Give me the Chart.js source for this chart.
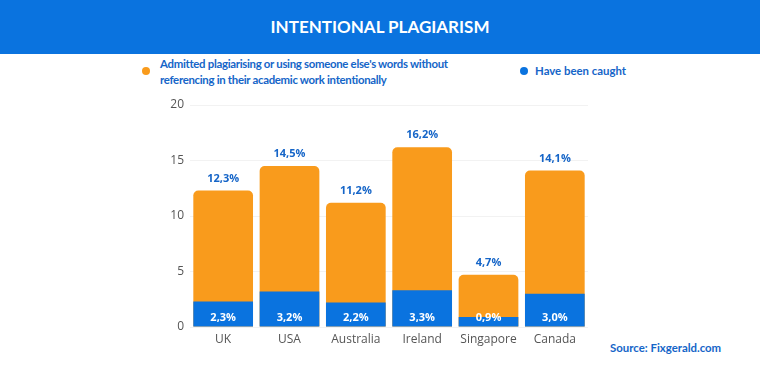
<!DOCTYPE html>
<html>
<head>
<meta charset="utf-8">
<script src="https://cdn.jsdelivr.net/npm/chart.js@4/dist/chart.umd.min.js"></script>
<style>
  html, body { margin: 0; padding: 0; width: 760px; height: 380px; background: #fff; overflow: hidden; }
  #wrap { position: relative; width: 760px; height: 380px; }
  #header { position: absolute; left: 0; top: 0; width: 760px; height: 54px; background: #0A73DF;
    color: #fff; font-family: Lato, "Open Sans", sans-serif; font-weight: 700; font-size: 17px;
    text-align: center; line-height: 54px; }
  .leg { position: absolute; font-family: Lato, "Open Sans", sans-serif; font-weight: 700; font-size: 11.4px;
    color: #1565C8; line-height: 16px; white-space: nowrap; }
  .dot { position: absolute; width: 8px; height: 8px; border-radius: 50%; }
  #source { position: absolute; left: 610px; top: 341px; font-family: Lato, "Open Sans", sans-serif;
    font-weight: 700; font-size: 11.4px; color: #1565C8; white-space: nowrap; }
  canvas { position: absolute; left: 0; top: 0; }
</style>
</head>
<body>
<div id="wrap">
  <div id="header">INTENTIONAL PLAGIARISM</div>
  <div class="dot" style="left:142px; top:67px; background:#F99B1C;"></div>
  <div class="leg" style="left:160px; top:56px; letter-spacing:-0.3px;">Admitted plagiarising or using someone else's words without<br>referencing in their academic work intentionally</div>
  <div class="dot" style="left:520px; top:67px; background:#0A73DF;"></div>
  <div class="leg" style="left:535px; top:63px;">Have been caught</div>
  <div id="source">Source: Fixgerald.com</div>
  <canvas id="c" width="760" height="380"></canvas>
</div>
<script>
const categories = ["UK", "USA", "Australia", "Ireland", "Singapore", "Canada"];
const admitted = [12.3, 14.5, 11.2, 16.2, 4.7, 14.1];
const caught = [2.3, 3.2, 2.2, 3.3, 0.9, 3.0];
const yTicks = [0, 5, 10, 15, 20];

const fmt = v => v.toFixed(1).replace('.', ',') + '%';

const labelPlugin = {
  id: 'valueLabels',
  afterDatasetsDraw(chart) {
    const ctx = chart.ctx;
    const xs = chart.scales.x, ys = chart.scales.y;
    ctx.save();
    ctx.textAlign = 'center';
    ctx.textBaseline = 'middle';
    ctx.font = '700 11px "Open Sans", sans-serif';
    admitted.forEach((v, i) => {
      ctx.fillStyle = '#1565C8';
      ctx.fillText(fmt(v), xs.getPixelForValue(i), ys.getPixelForValue(v) - 12);
    });
    caught.forEach((v, i) => {
      ctx.fillStyle = '#ffffff';
      ctx.fillText(fmt(v), xs.getPixelForValue(i), ys.getPixelForValue(0) - 9);
    });
    ctx.restore();
  }
};

new Chart(document.getElementById('c'), {
  type: 'bar',
  data: {
    labels: categories,
    datasets: [
      { label: 'Have been caught', data: caught, backgroundColor: '#0A73DF', borderRadius: 0, order: 0,
        barPercentage: 0.9, categoryPercentage: 1.0 },
      { label: 'Admitted plagiarising or using someone else\'s words without referencing in their academic work intentionally',
        data: admitted, backgroundColor: '#F99B1C',
        borderRadius: { topLeft: 5, topRight: 5, bottomLeft: 0, bottomRight: 0 }, borderSkipped: 'bottom', order: 1,
        barPercentage: 0.9, categoryPercentage: 1.0 }
    ]
  },
  options: {
    responsive: false,
    animation: false,
    layout: { padding: { left: 150, right: 172, top: 105, bottom: 31 } },
    plugins: { legend: { display: false }, tooltip: { enabled: false } },
    scales: {
      x: {
        stacked: true,
        grid: { display: false, drawTicks: false },
        border: { display: false },
        ticks: { color: '#555', font: { family: '"Open Sans", sans-serif', size: 12 }, padding: 5 },
        afterFit(s) { s.height = 22; }
      },
      y: {
        stacked: false,
        min: 0, max: 20,
        afterBuildTicks(s) { s.ticks = yTicks.map(v => ({ value: v })); },
        grid: { color: '#f2f2f2', drawTicks: false },
        border: { display: false },
        ticks: { color: '#555', font: { family: '"Open Sans", sans-serif', size: 12 }, padding: 6 },
        afterFit(s) { s.width = 40; }
      }
    }
  },
  plugins: [labelPlugin]
});
</script>
</body>
</html>
